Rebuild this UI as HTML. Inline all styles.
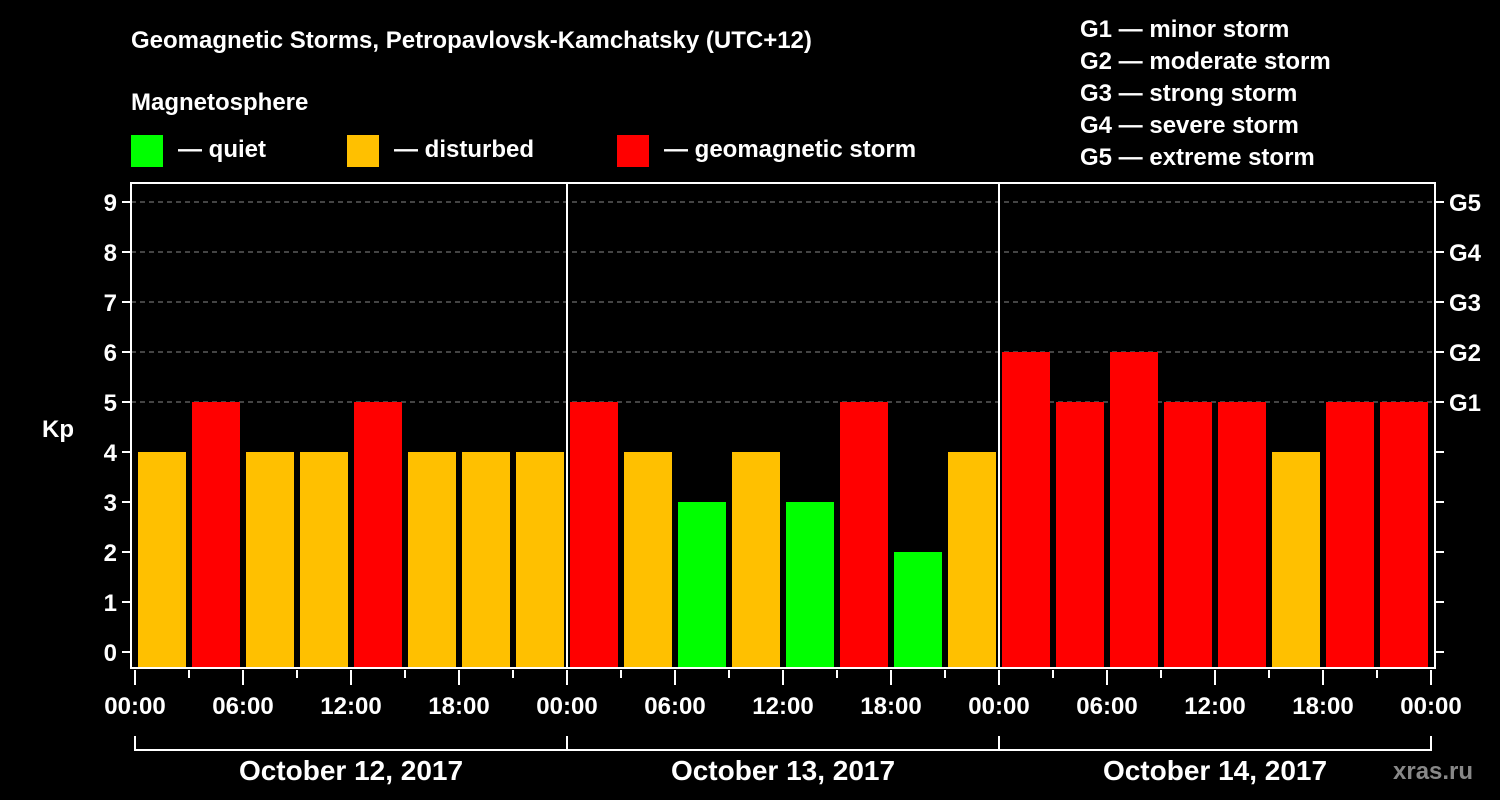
<!DOCTYPE html>
<html><head><meta charset="utf-8"><style>
body{margin:0;background:#000;}
svg{display:block;font-family:"Liberation Sans",Arial,sans-serif;font-weight:bold;}
</style></head><body>
<svg id="c" width="1500" height="800" xmlns="http://www.w3.org/2000/svg">
<rect width="1500" height="800" fill="#000"/>
<text x="131" y="48" fill="#fff" font-size="24">Geomagnetic Storms, Petropavlovsk-Kamchatsky (UTC+12)</text>
<text x="131" y="110" fill="#fff" font-size="24">Magnetosphere</text>
<g><rect x="131" y="135" width="32" height="32" fill="#00ff00"/><text x="178" y="157" fill="#fff" font-size="24">— quiet</text></g>
<g><rect x="347" y="135" width="32" height="32" fill="#ffc000"/><text x="394" y="157" fill="#fff" font-size="24">— disturbed</text></g>
<g><rect x="617" y="135" width="32" height="32" fill="#ff0000"/><text x="664" y="157" fill="#fff" font-size="24">— geomagnetic storm</text></g>
<g fill="#fff" font-size="24">
<text x="1080" y="37">G1 — minor storm</text>
<text x="1080" y="69">G2 — moderate storm</text>
<text x="1080" y="101">G3 — strong storm</text>
<text x="1080" y="133">G4 — severe storm</text>
<text x="1080" y="165">G5 — extreme storm</text>
</g>
<text x="42" y="437" fill="#fff" font-size="24">Kp</text>
<text x="1393" y="779" fill="#888" font-size="24">xras.ru</text>
<g id="grid"></g><g id="bars"></g><g id="axes"></g>
</svg>
<script>
const kpValues=[4,5,4,4,5,4,4,4, 5,4,3,4,3,5,2,4, 6,5,6,5,5,4,5,5];
const dayLabels=["October 12, 2017","October 13, 2017","October 14, 2017"];
const timeLabels=["00:00","06:00","12:00","18:00"];
const yTicks=[0,1,2,3,4,5,6,7,8,9];
const gLabels={5:"G1",6:"G2",7:"G3",8:"G4",9:"G5"};
const NS="http://www.w3.org/2000/svg";
const X0=135,SLOT=54,Y0=652,UNIT=50,TOP=183,BOT=668,LEFT=131,RIGHT=1435;
const xs=i=>X0+i*SLOT, ys=v=>Y0-v*UNIT;
function mk(tag,attrs,parent){const e=document.createElementNS(NS,tag);for(const k in attrs)e.setAttribute(k,attrs[k]);parent.appendChild(e);return e;}
const grid=document.getElementById('grid'),bars=document.getElementById('bars'),axes=document.getElementById('axes');
function col(v){return v>=5?"#ff0000":v>=4?"#ffc000":"#00ff00";}
yTicks.forEach(v=>{
  if(v>=5){const g=mk('line',{x1:LEFT,x2:RIGHT,y1:ys(v),y2:ys(v),stroke:'#888','stroke-dasharray':'5,4'},grid);
  
  }
  const t=mk('line',{x1:LEFT-9,x2:LEFT,y1:ys(v),y2:ys(v),stroke:'#fff','stroke-width':2},axes);
  
  
  const l=mk('text',{x:LEFT-14,y:ys(v)+9,fill:'#fff','font-size':24,'text-anchor':'end'},axes);l.textContent=v;
  
  
  const r=mk('line',{x1:RIGHT,x2:RIGHT+9,y1:ys(v),y2:ys(v),stroke:'#fff','stroke-width':2},axes);
  
  
  if(gLabels[v]){const g=mk('text',{x:RIGHT+14,y:ys(v)+9,fill:'#fff','font-size':24},axes);g.textContent=gLabels[v];
  
  }
});
kpValues.forEach((v,i)=>{
  const b=mk('rect',{x:xs(i)+3,y:ys(v),width:48,height:BOT-1-ys(v),fill:col(v)},bars);
  
  
});
const fr=mk('rect',{x:LEFT,y:TOP,width:RIGHT-LEFT,height:BOT-TOP,fill:'none',stroke:'#fff','stroke-width':2},axes);


for(let d=0;d<=3;d++){
  if(d>0&&d<3){const s=mk('line',{x1:xs(d*8),x2:xs(d*8),y1:TOP,y2:BOT,stroke:'#fff','stroke-width':2},axes);
  
  }
}
for(let i=0;i<=24;i++){
  const long=i%2===0;
  const t=mk('line',{x1:xs(i),x2:xs(i),y1:BOT+2,y2:long?BOT+17:BOT+10,stroke:'#fff','stroke-width':2},axes);
  
  
  if(long){const l=mk('text',{x:xs(i),y:714,fill:'#fff','font-size':24,'text-anchor':'middle'},axes);l.textContent=timeLabels[(i/2)%4];
  
  }
}
dayLabels.forEach((d,k)=>{
  const x1=xs(k*8),x2=xs(k*8+8);
  const p=mk('path',{d:`M${x1} 736V750H${x2}`+(k===2?`V736`:''),stroke:'#fff','stroke-width':2,fill:'none'},axes);
  
  
  const t=mk('text',{x:(x1+x2)/2,y:780,fill:'#fff','font-size':28,'text-anchor':'middle'},axes);t.textContent=d;
  
  
});
</script>
</body></html>
